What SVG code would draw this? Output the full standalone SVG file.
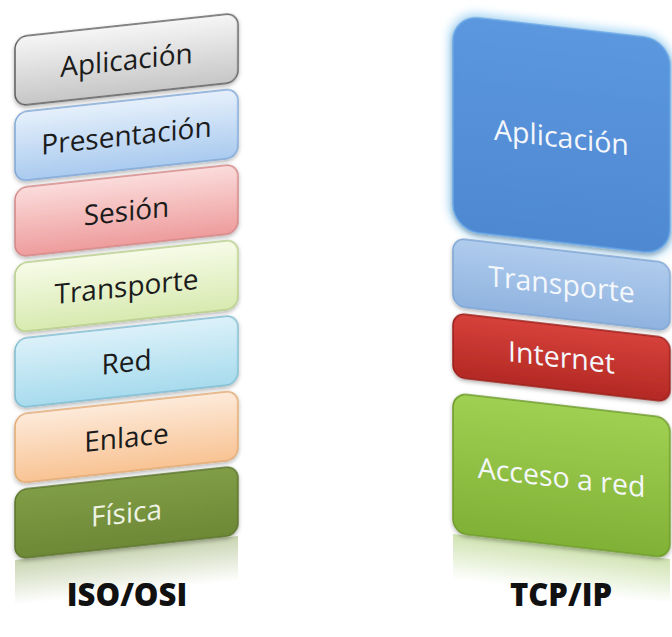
<svg xmlns="http://www.w3.org/2000/svg" width="672" height="637" viewBox="0 0 672 637">
<style>
  .lbl { font-family: "Open Sans", "Liberation Sans", sans-serif; font-size: 28px; text-anchor: middle; fill: #1b1b1b; }
  .lblw { font-family: "Open Sans", "Liberation Sans", sans-serif; font-size: 28.5px; text-anchor: middle; fill: #f4f7fb; }
  .title { font-family: "Open Sans", "Liberation Sans", sans-serif; font-size: 31px; font-weight: 800; text-anchor: middle; fill: #111; }
  .box { stroke-width: 1.5; filter: url(#shadow); }
</style>
<defs>
  <filter id="shadow" x="-10%" y="-10%" width="120%" height="130%">
    <feDropShadow dx="0" dy="2" stdDeviation="2" flood-color="#000" flood-opacity="0.3"/>
  </filter>
  <filter id="glow" x="-20%" y="-20%" width="140%" height="140%">
    <feGaussianBlur stdDeviation="5"/>
  </filter>
  <linearGradient id="gGray" x1="0" y1="0" x2="0" y2="1"><stop offset="0" stop-color="#f6f6f6"/><stop offset="1" stop-color="#c6c6c6"/></linearGradient>
  <linearGradient id="gBlue" x1="0" y1="0" x2="0" y2="1"><stop offset="0" stop-color="#e6f0fb"/><stop offset="1" stop-color="#a9caef"/></linearGradient>
  <linearGradient id="gPink" x1="0" y1="0" x2="0" y2="1"><stop offset="0" stop-color="#fbdcdc"/><stop offset="1" stop-color="#ee9c9c"/></linearGradient>
  <linearGradient id="gYel" x1="0" y1="0" x2="0" y2="1"><stop offset="0" stop-color="#f7fbe8"/><stop offset="1" stop-color="#d7eab0"/></linearGradient>
  <linearGradient id="gCyan" x1="0" y1="0" x2="0" y2="1"><stop offset="0" stop-color="#dcf1f9"/><stop offset="1" stop-color="#a7dbed"/></linearGradient>
  <linearGradient id="gPeach" x1="0" y1="0" x2="0" y2="1"><stop offset="0" stop-color="#fdeada"/><stop offset="1" stop-color="#f8c393"/></linearGradient>
  <linearGradient id="gOlive" x1="0" y1="0" x2="0" y2="1"><stop offset="0" stop-color="#809d46"/><stop offset="1" stop-color="#6d8836"/></linearGradient>
  <linearGradient id="gOliveRef" x1="0" y1="0" x2="0" y2="1"><stop offset="0" stop-color="#77933c" stop-opacity="0.4"/><stop offset="1" stop-color="#77933c" stop-opacity="0"/></linearGradient>
  <linearGradient id="gRBlue" x1="0" y1="0" x2="0" y2="1"><stop offset="0" stop-color="#5b97de"/><stop offset="1" stop-color="#4e88d1"/></linearGradient>
  <linearGradient id="gRLight" x1="0" y1="0" x2="0" y2="1"><stop offset="0" stop-color="#b0cced"/><stop offset="1" stop-color="#8fb3df"/></linearGradient>
  <linearGradient id="gRed" x1="0" y1="0" x2="0" y2="1"><stop offset="0" stop-color="#d6413b"/><stop offset="1" stop-color="#b32924"/></linearGradient>
  <linearGradient id="gGreen" x1="0" y1="0" x2="0" y2="1"><stop offset="0" stop-color="#a0d052"/><stop offset="1" stop-color="#80b136"/></linearGradient>
  <linearGradient id="gGreenRef" x1="0" y1="0" x2="0" y2="1"><stop offset="0" stop-color="#86b83a" stop-opacity="0.4"/><stop offset="1" stop-color="#86b83a" stop-opacity="0"/></linearGradient>
</defs>
<rect width="672" height="637" fill="#ffffff"/>

<!-- ISO/OSI stack -->
<g id="osi-aplicacion" transform="translate(15,37) skewY(-6.14)">
  <rect class="box" width="223" height="69" rx="12" fill="url(#gGray)" stroke="#5e5e5e"/>
  <text class="lbl" x="111.5" y="45">Aplicación</text>
</g>
<g id="osi-presentacion" transform="translate(15,112.5) skewY(-6.14)">
  <rect class="box" width="223" height="69" rx="12" fill="url(#gBlue)" stroke="#7fa7d5"/>
  <text class="lbl" x="111.5" y="45">Presentación</text>
</g>
<g id="osi-sesion" transform="translate(15,188) skewY(-6.14)">
  <rect class="box" width="223" height="69" rx="12" fill="url(#gPink)" stroke="#d38686"/>
  <text class="lbl" x="111.5" y="45">Sesión</text>
</g>
<g id="osi-transporte" transform="translate(15,263.5) skewY(-6.14)">
  <rect class="box" width="223" height="69" rx="12" fill="url(#gYel)" stroke="#b6cc88"/>
  <text class="lbl" x="111.5" y="45">Transporte</text>
</g>
<g id="osi-red" transform="translate(15,339) skewY(-6.14)">
  <rect class="box" width="223" height="69" rx="12" fill="url(#gCyan)" stroke="#7fbbd0"/>
  <text class="lbl" x="111.5" y="45">Red</text>
</g>
<g id="osi-enlace" transform="translate(15,414.5) skewY(-6.14)">
  <rect class="box" width="223" height="69" rx="12" fill="url(#gPeach)" stroke="#e1a971"/>
  <text class="lbl" x="111.5" y="45">Enlace</text>
</g>
<g id="osi-fisica" transform="translate(15,490) skewY(-6.14)">
  <rect x="0" y="70" width="223" height="45" fill="url(#gOliveRef)"/>
  <rect class="box" width="223" height="69" rx="12" fill="url(#gOlive)" stroke="#5c742f"/>
  <text class="lbl" x="111.5" y="45" style="fill:#eef3e4">Física</text>
</g>
<g id="osi-title">
  <text class="title" x="127" y="606">ISO/OSI</text>
</g>

<!-- TCP/IP stack -->
<g id="tcp-aplicacion" transform="translate(453,15) skewY(6.57)">
  <rect width="217" height="215" rx="26" fill="none" stroke="#9fd4f6" stroke-width="8" filter="url(#glow)"/>
  <rect class="box" width="217" height="215" rx="26" fill="url(#gRBlue)" stroke="#6aa7e6"/>
  <text class="lblw" x="108.5" y="120">Aplicación</text>
</g>
<g id="tcp-transporte" transform="translate(453,238) skewY(6.57)">
  <rect class="box" width="217" height="68" rx="12" fill="url(#gRLight)" stroke="#7ea5d3"/>
  <text class="lblw" x="108.5" y="44">Transporte</text>
</g>
<g id="tcp-internet" transform="translate(453,313) skewY(6.57)">
  <rect class="box" width="217" height="64" rx="12" fill="url(#gRed)" stroke="#9a1f1b"/>
  <text class="lblw" x="108.5" y="42">Internet</text>
</g>
<g id="tcp-acceso" transform="translate(453,393) skewY(6.57)">
  <rect x="0" y="141" width="217" height="45" fill="url(#gGreenRef)"/>
  <rect class="box" width="217" height="140" rx="14" fill="url(#gGreen)" stroke="#6e9a2b"/>
  <text class="lblw" x="108.5" y="82">Acceso a red</text>
</g>
<g id="tcp-title">
  <text class="title" x="561" y="606">TCP/IP</text>
</g>
</svg>
